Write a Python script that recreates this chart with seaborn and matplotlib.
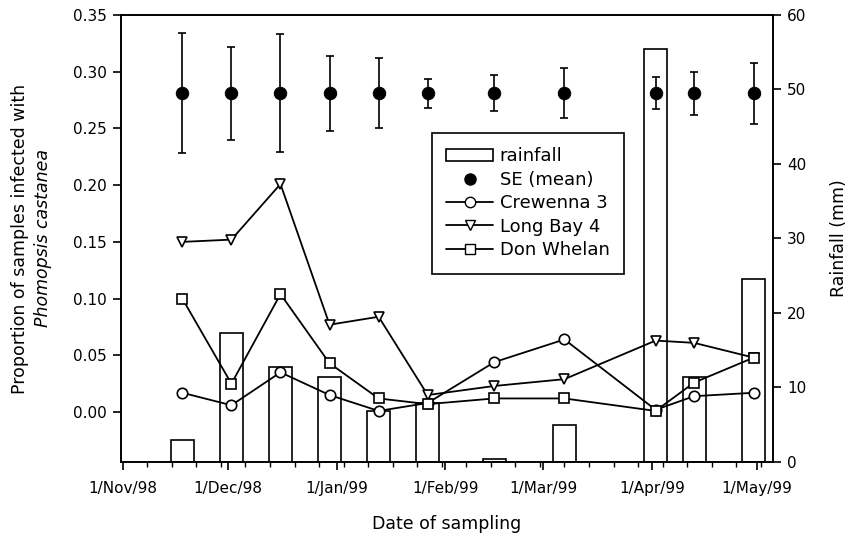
import numpy as np
import pandas as pd
import matplotlib
matplotlib.use("Agg")
import matplotlib.pyplot as plt
import matplotlib.dates as mdates
from matplotlib.patches import Patch
from matplotlib.lines import Line2D
import seaborn as sns

# %% Data
sample_dates = pd.to_datetime([
    "1998-11-18", "1998-12-02", "1998-12-16", "1998-12-30", "1999-01-13",
    "1999-01-27", "1999-02-15", "1999-03-07", "1999-04-02", "1999-04-13",
    "1999-04-30"])
rainfall_mm = [2.9, 17.3, 12.8, 11.4, 6.9, 7.9, 0.4, 4.9, 55.5, 11.4, 24.5]
se_mean = [0.281] * 11
se_err = [0.053, 0.041, 0.052, 0.033, 0.031, 0.013, 0.016, 0.022, 0.014, 0.019, 0.027]
crewenna_3 = [0.017, 0.006, 0.035, 0.015, 0.001, 0.008, 0.044, 0.064, 0.002, 0.014, 0.017]
long_bay_4 = [0.150, 0.152, 0.201, 0.077, 0.084, 0.015, 0.023, 0.029, 0.063, 0.061, 0.048]
don_whelan = [0.100, 0.025, 0.104, 0.043, 0.012, 0.007, 0.012, 0.012, 0.001, 0.026, 0.048]

left_ticks = [0.00, 0.05, 0.10, 0.15, 0.20, 0.25, 0.30, 0.35]
right_ticks = [0, 10, 20, 30, 40, 50, 60]

# %% Style
sns.set_style("ticks")
plt.rcParams['font.family'] = ['DejaVu Sans']
plt.rcParams['axes.linewidth'] = 1.2
plt.rcParams['text.color'] = 'black'
plt.rcParams['axes.labelcolor'] = 'black'
plt.rcParams['xtick.color'] = 'black'
plt.rcParams['ytick.color'] = 'black'
plt.rcParams['axes.edgecolor'] = 'black'

fig = plt.figure(figsize=(8.49, 5.39), dpi=100)
ax = fig.add_axes([0.1425, 0.1429, 0.768, 0.8293])
ax2 = ax.twinx()

# rainfall bars on the right axis, drawn behind
ax2.bar(sample_dates, rainfall_mm, width=6.5, facecolor='white',
        edgecolor='black', linewidth=1.2, zorder=1)
ax.set_zorder(ax2.get_zorder() + 1)
ax.patch.set_visible(False)

# SE points with error bars
ax.errorbar(sample_dates, se_mean, yerr=se_err, fmt='none', ecolor='black',
            elinewidth=1.2, capsize=3, capthick=1.2, zorder=3)
sns.scatterplot(x=sample_dates, y=se_mean, color='black', s=80,
                edgecolor='black', ax=ax, zorder=4, legend=False)

series = [("Crewenna 3", crewenna_3, 'o', 7.5),
          ("Long Bay 4", long_bay_4, 'v', 7.5),
          ("Don Whelan", don_whelan, 's', 6.5)]
for name, vals, mk, ms in series:
    sns.lineplot(x=sample_dates, y=vals, ax=ax, color='black', lw=1.3,
                 marker=mk, markersize=ms, markerfacecolor='white',
                 markeredgecolor='black', markeredgewidth=1.2, zorder=5,
                 legend=False)

# %% Axes
ax.set_xlim(pd.Timestamp("1998-10-31 12:00"), pd.Timestamp("1999-05-05 12:00"))
ax.set_ylim(-0.044, 0.35)
ax2.set_ylim(0, 60)
ax.set_yticks(left_ticks)
ax.set_yticklabels([f"{t:.2f}" for t in left_ticks])
ax2.set_yticks(right_ticks)

ax.xaxis.set_major_locator(mdates.MonthLocator(bymonthday=1))
ax.xaxis.set_major_formatter(plt.FuncFormatter(
    lambda v, pos: f"{mdates.num2date(v).day}/{mdates.num2date(v):%b/%y}"))
ax.xaxis.set_minor_locator(mdates.WeekdayLocator(byweekday=mdates.SU))

ax.tick_params(axis='both', which='major', labelsize=11, length=6, width=1.2,
               direction='out', pad=4)
ax.tick_params(axis='x', which='major', pad=8)
ax.tick_params(axis='x', which='minor', length=3.5, width=1.0, direction='out')
ax2.tick_params(axis='y', which='major', labelsize=11, length=6, width=1.2,
                direction='out', pad=4)
for a in (ax, ax2):
    for s in a.spines.values():
        s.set_visible(True)
        s.set_linewidth(1.2)

ax.set_xlabel("Date of sampling", fontsize=12.5)
ax.xaxis.set_label_coords(0.5, -0.118)
ax.set_ylabel("")
ax.text(-0.155, 0.5, "Proportion of samples infected with", transform=ax.transAxes,
        rotation=90, ha='center', va='center', fontsize=12.5)
ax.text(-0.12, 0.5, "Phomopsis castanea", transform=ax.transAxes,
        rotation=90, ha='center', va='center', fontsize=12.5, style='italic')
ax2.set_ylabel("Rainfall (mm)", fontsize=12.5)
ax2.yaxis.set_label_coords(1.087, 0.5)

# %% Legend
handles = [
    Patch(facecolor='white', edgecolor='black', linewidth=1.2),
    Line2D([], [], color='black', marker='o', linestyle='none', markersize=8),
    Line2D([], [], color='black', marker='o', markersize=7.5, markerfacecolor='white', lw=1.3),
    Line2D([], [], color='black', marker='v', markersize=7.5, markerfacecolor='white', lw=1.3),
    Line2D([], [], color='black', marker='s', markersize=6.5, markerfacecolor='white', lw=1.3),
]
labels = ["rainfall", "SE (mean)", "Crewenna 3", "Long Bay 4", "Don Whelan"]
leg = ax.legend(handles, labels, loc='upper left', bbox_to_anchor=(0.477, 0.736),
                borderaxespad=0, fontsize=13, frameon=True, fancybox=False,
                edgecolor='black', framealpha=1, handlelength=2.6,
                labelspacing=0.3, handletextpad=0.35, borderpad=0.8)
leg.get_frame().set_linewidth(1.2)

fig.savefig("out.png", dpi=100)
